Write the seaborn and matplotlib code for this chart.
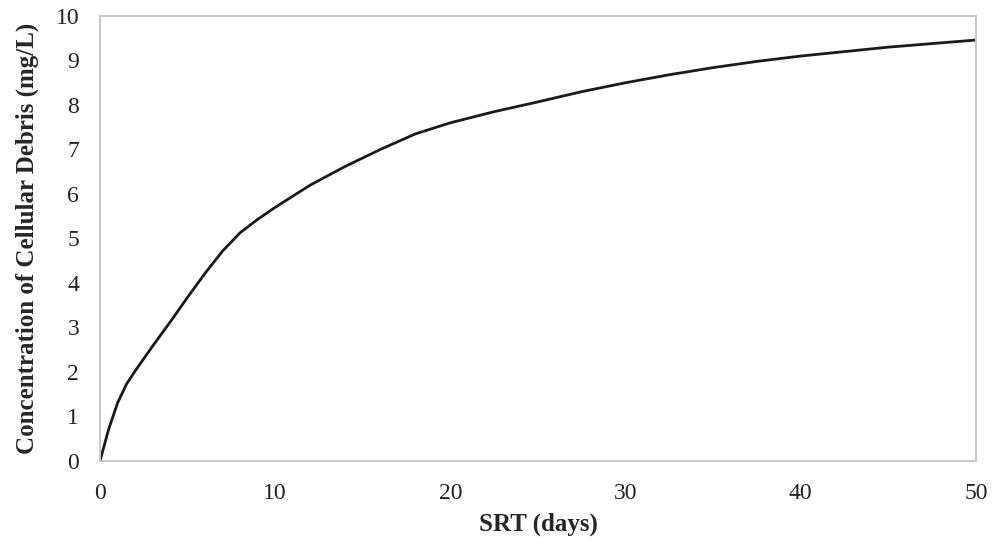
import matplotlib
matplotlib.use("Agg")
import matplotlib.pyplot as plt
import seaborn as sns
import pandas as pd

srt_days = [0, 0.5, 1, 1.5, 2, 3, 4, 5, 6, 7, 8, 9, 10, 12, 14, 16, 18, 20, 22.5, 25, 27.5, 30,
            32.5, 35, 37.5, 40, 42.5, 45, 47.5, 50]
debris_mg_l = [0, 0.72, 1.3, 1.72, 2.02, 2.58, 3.12, 3.68, 4.22, 4.72, 5.13, 5.43, 5.7, 6.2, 6.62, 7.0,
               7.35, 7.6, 7.85, 8.07, 8.3, 8.5, 8.68, 8.84, 8.98, 9.1, 9.2, 9.3, 9.38, 9.46]
x_ticks = [0, 10, 20, 30, 40, 50]
y_ticks = [0, 1, 2, 3, 4, 5, 6, 7, 8, 9, 10]

sns.set_theme(style="white")
plt.rcParams['font.family'] = ['Liberation Serif', 'DejaVu Serif']

df = pd.DataFrame({"SRT": srt_days, "Debris": debris_mg_l})

fig = plt.figure(figsize=(9.92, 5.46), dpi=100)
ax = fig.add_axes([0.1008, 0.1557, 0.883, 0.815])
sns.lineplot(data=df, x="SRT", y="Debris", ax=ax, color="#1a1a1a", linewidth=2.0)

ax.set_xlim(0, 50)
ax.set_ylim(0, 10)
ax.set_xticks(x_ticks)
ax.set_yticks(y_ticks)
ax.set_xticklabels([str(t) for t in x_ticks], fontsize=17)
ax.set_yticklabels([str(t) for t in y_ticks], fontsize=17)
ax.tick_params(axis='x', length=0, pad=16, colors="#222222")
ax.tick_params(axis='y', length=0, pad=15, colors="#222222")
ax.set_xlabel("SRT (days)", fontsize=18, fontweight="bold", labelpad=6)
ax.set_ylabel("Concentration of Cellular Debris (mg/L)", fontsize=18, fontweight="bold", labelpad=12)
for s in ax.spines.values():
    s.set_color("#c8c8c8")
    s.set_linewidth(1.5)
    s.set_visible(True)

fig.savefig("out.png", dpi=100, facecolor="white")
